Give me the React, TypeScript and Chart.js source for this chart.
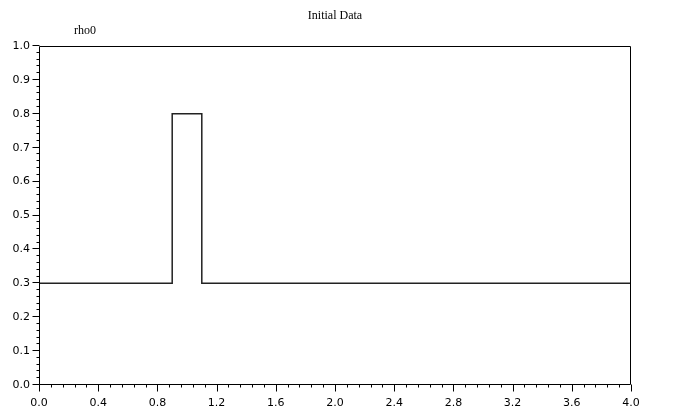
import React, { useEffect, useRef } from "react";
import { Chart, registerables } from "chart.js";

Chart.register(...registerables);

const TITLE = "Initial Data";
const Y_LABEL = "rho0";
const xValues = [0, 0.9, 0.9, 1.1, 1.1, 4.0];
const rho0 = [0.3, 0.3, 0.8, 0.8, 0.3, 0.3];
const X_MIN = 0;
const X_MAX = 4;
const X_MAJOR = 0.4;
const X_MINOR = 0.08;
const Y_MIN = 0;
const Y_MAX = 1;
const Y_MAJOR = 0.1;
const Y_MINOR = 0.02;

const isMajor = (v: number, step: number) => Math.abs(v / step - Math.round(v / step)) < 1e-6;

const framePlugin = {
  id: "frame",
  afterDraw(chart: any) {
    const { ctx, chartArea } = chart;
    const { left, right, top, bottom } = chartArea;
    const xs = chart.scales.x;
    const ys = chart.scales.y;
    ctx.save();
    ctx.strokeStyle = "#000";
    ctx.lineWidth = 1;
    ctx.beginPath();
    const L = Math.round(left) + 0.5;
    const R = Math.round(right) - 0.5;
    const T = Math.round(top) + 0.5;
    const B = Math.round(bottom) - 0.5;
    ctx.moveTo(L, T);
    ctx.lineTo(R, T);
    ctx.lineTo(R, B);
    ctx.lineTo(L, B);
    ctx.closePath();
    xs.ticks.forEach((t: any) => {
      const px = Math.round(xs.getPixelForValue(t.value)) + 0.5;
      const len = isMajor(t.value, X_MAJOR) ? 7 : 3;
      ctx.moveTo(px, B);
      ctx.lineTo(px, B + len);
    });
    ys.ticks.forEach((t: any) => {
      const py = Math.round(ys.getPixelForValue(t.value)) - 0.5;
      const len = isMajor(t.value, Y_MAJOR) ? 7 : 3;
      ctx.moveTo(L, py);
      ctx.lineTo(L - len, py);
    });
    ctx.stroke();
    ctx.fillStyle = "#000";
    ctx.font = "12px 'Liberation Serif'";
    ctx.textAlign = "center";
    ctx.textBaseline = "middle";
    ctx.fillText(TITLE, (left + right) / 2, 16);
    ctx.textAlign = "left";
    ctx.fillText(Y_LABEL, left + 35, top - 15);
    ctx.restore();
  },
};

export default function App() {
  const ref = useRef<HTMLCanvasElement>(null);
  useEffect(() => {
    if (!ref.current) return;
    const chart = new Chart(ref.current, {
      type: "line",
      data: {
        datasets: [
          {
            data: xValues.map((x, i) => ({ x, y: rho0[i] })),
            borderColor: "#222",
            borderWidth: 1.5,
            pointRadius: 0,
            fill: false,
            tension: 0,
          },
        ],
      },
      options: {
        animation: false,
        responsive: false,
        events: [],
        layout: { padding: { top: 46, right: 43, left: 0, bottom: 0 } },
        plugins: { legend: { display: false }, tooltip: { enabled: false }, title: { display: false } },
        scales: {
          x: {
            type: "linear",
            min: X_MIN,
            max: X_MAX,
            afterFit: (s: any) => {
              s.height = 23;
            },
            grid: { display: false, drawTicks: false },
            border: { display: false },
            ticks: {
              stepSize: X_MINOR,
              autoSkip: false,
              maxRotation: 0,
              padding: 12,
              color: "#000",
              font: { family: "DejaVu Sans", size: 11 },
              callback: (v: any) => (isMajor(Number(v), X_MAJOR) ? Number(v).toFixed(1) : ""),
            },
          },
          y: {
            type: "linear",
            min: Y_MIN,
            max: Y_MAX,
            afterFit: (s: any) => {
              s.width = 39;
            },
            grid: { display: false, drawTicks: false },
            border: { display: false },
            ticks: {
              stepSize: Y_MINOR,
              autoSkip: false,
              padding: 9,
              color: "#000",
              font: { family: "DejaVu Sans", size: 11 },
              callback: (v: any) => (isMajor(Number(v), Y_MAJOR) ? Number(v).toFixed(1) : ""),
            },
          },
        },
      },
      plugins: [framePlugin],
    });
    return () => chart.destroy();
  }, []);
  return (
    <div style={{ position: "absolute", left: 0, top: 0, width: 674, height: 408, background: "#fff" }}>
      <canvas ref={ref} width={674} height={408} style={{ display: "block" }} />
    </div>
  );
}
